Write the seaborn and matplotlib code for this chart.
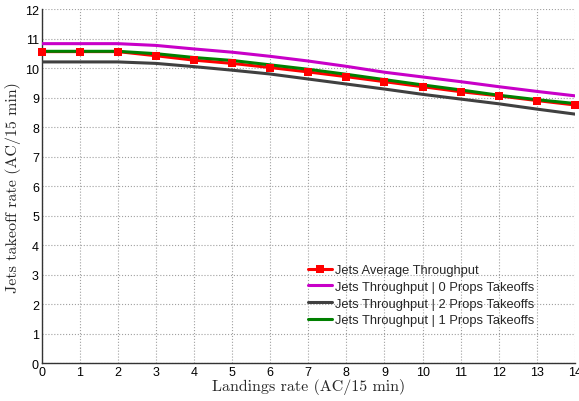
import numpy as np
import pandas as pd
import matplotlib
matplotlib.use("Agg")
import matplotlib.pyplot as plt
import seaborn as sns

# values
landings = list(range(15))
jets_avg = [10.57, 10.57, 10.57, 10.43, 10.28, 10.17, 10.03, 9.88, 9.72, 9.55, 9.38, 9.21, 9.07, 8.91, 8.76]
jets_0_props = [10.84, 10.84, 10.84, 10.78, 10.66, 10.55, 10.41, 10.25, 10.07, 9.87, 9.71, 9.55, 9.38, 9.22, 9.07]
jets_2_props = [10.22, 10.22, 10.22, 10.17, 10.06, 9.94, 9.81, 9.64, 9.47, 9.30, 9.12, 8.96, 8.80, 8.62, 8.45]
jets_1_props = [10.58, 10.58, 10.58, 10.50, 10.37, 10.27, 10.12, 9.97, 9.80, 9.62, 9.44, 9.27, 9.09, 8.94, 8.81]

labels = [
    "Jets Average Throughput",
    "Jets Throughput | 0 Props Takeoffs",
    "Jets Throughput | 2 Props Takeoffs",
    "Jets Throughput | 1 Props Takeoffs",
]
colors = ["#ff0000", "#c800c8", "#404040", "#008000"]

sns.set_theme(style="white")
plt.rcParams["font.family"] = ["Liberation Sans", "DejaVu Sans"]

fig = plt.figure(figsize=(5.79, 4.02), dpi=100)
ax = fig.add_axes([0.072, 0.094, 0.921, 0.880])

df = pd.DataFrame({"x": landings, "avg": jets_avg, "p0": jets_0_props,
                   "p2": jets_2_props, "p1": jets_1_props})

sns.lineplot(data=df, x="x", y="avg", ax=ax, color=colors[0], lw=2.2,
             marker="s", markersize=6, markeredgewidth=0, label=labels[0], zorder=2)
sns.lineplot(data=df, x="x", y="p0", ax=ax, color=colors[1], lw=2.2, label=labels[1], zorder=3)
sns.lineplot(data=df, x="x", y="p2", ax=ax, color=colors[2], lw=2.2, label=labels[2], zorder=3)
sns.lineplot(data=df, x="x", y="p1", ax=ax, color=colors[3], lw=2.2, label=labels[3], zorder=3)
# red markers sit on top of the green line
sns.scatterplot(data=df, x="x", y="avg", ax=ax, color=colors[0], marker="s", s=40,
                linewidth=0, zorder=4, legend=False, clip_on=False)

ax.set_xlim(0, 14)
ax.set_ylim(0, 12)
ax.set_xticks(range(0, 15))
ax.set_yticks(range(0, 13))
ax.grid(True, linestyle=":", color="#a0a0a0", linewidth=0.8)
ax.tick_params(direction="in", length=4, width=0.8, labelsize=9, colors="black", pad=2)

for side in ["top", "right"]:
    ax.spines[side].set_visible(False)
for side in ["left", "bottom"]:
    ax.spines[side].set_color("#333333")
    ax.spines[side].set_linewidth(1.0)

ax.set_xlabel("Landings rate (AC/15 min)", family="cmr10", fontsize=11.5, labelpad=0)
ax.set_ylabel("Jets takeoff rate (AC/15 min)", family="cmr10", fontsize=11.5, labelpad=3)

leg = ax.legend(loc="upper left", bbox_to_anchor=(0.499, 0.280), fontsize=9.3,
                frameon=False, borderpad=0, borderaxespad=0,
                handlelength=1.9, handletextpad=0.2, labelspacing=0.36)

fig.savefig("out.png", dpi=100)
